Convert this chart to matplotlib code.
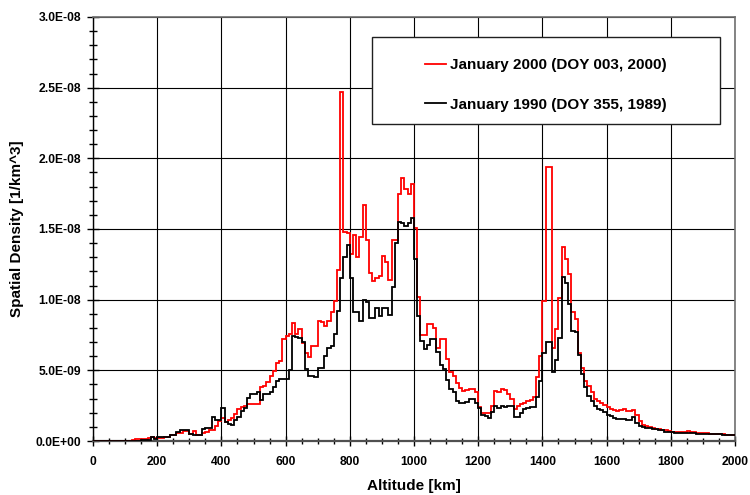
import numpy as np
import matplotlib
matplotlib.use("Agg")
import matplotlib.pyplot as plt
from matplotlib.patches import Rectangle
from matplotlib.ticker import MultipleLocator, FuncFormatter

plt.rcParams['font.family'] = ['Liberation Sans', 'DejaVu Sans']
plt.rcParams['font.weight'] = 'bold'

# Altitude bin edges [km] (10 km bins, 0..2000)
alt_edges = np.arange(0, 2001, 10)

# Spatial density, units of 1e-9 per km^3, one value per 10 km bin
jan2000 = [
    0, 0, 0, 0, 0, 0, 0, 0, 0, 0,
    0, 0, 0.05, 0.12, 0.12, 0.15, 0.15, 0.2, 0.25, 0.24,
    0.18, 0.2, 0.3, 0.3, 0.4, 0.4, 0.6, 0.6, 0.7, 0.7,
    0.5, 0.7, 0.4, 0.4, 0.6, 0.65, 0.8, 0.8, 1.06, 1.4,
    1.6, 1.35, 1.5, 1.65, 1.9, 2.24, 2.4, 2.5, 2.6, 2.65,
    2.65, 2.65, 3.8, 3.9, 4.2, 4.6, 4.95, 5.5, 5.65, 7.2,
    7.4, 7.6, 8.35, 7.6, 7.95, 6.9, 6.25, 5.97, 6.7, 6.7,
    8.5, 8.4, 8.15, 8.5, 9.15, 9.9, 12.1, 24.7, 14.8, 14.7,
    13.2, 14.6, 13.0, 14.4, 16.7, 14.2, 11.9, 11.3, 11.5, 11.7,
    13.1, 12.7, 11.4, 14.2, 14.2, 17.5, 18.6, 17.8, 17.5, 18.2,
    15.1, 10.2, 7.5, 7.5, 8.3, 8.3, 8.0, 6.6, 7.2, 7.2,
    5.8, 4.9, 4.6, 4.1, 3.75, 3.57, 3.6, 3.7, 3.7, 3.5,
    2.4, 2.0, 2.0, 2.0, 2.45, 3.55, 3.45, 3.66, 3.6, 3.3,
    2.96, 2.25, 2.5, 2.6, 2.7, 2.84, 2.9, 3.1, 4.5, 6.0,
    9.9, 19.4, 19.4, 6.6, 7.9, 10.1, 13.7, 12.9, 11.8, 9.1,
    8.6, 6.2, 5.2, 4.27, 3.9, 3.45, 3.0, 2.8, 2.67, 2.55,
    2.43, 2.24, 2.2, 2.1, 2.2, 2.28, 2.1, 2.1, 2.2, 1.87,
    1.4, 1.15, 1.03, 0.97, 0.91, 0.84, 0.84, 0.78, 0.75, 0.7,
    0.67, 0.67, 0.67, 0.65, 0.65, 0.7, 0.67, 0.65, 0.6, 0.6,
    0.55, 0.55, 0.5, 0.5, 0.46, 0.46, 0.46, 0.45, 0.45, 0.45,
]

jan1990 = [
    0, 0, 0, 0, 0, 0, 0, 0, 0, 0,
    0, 0, 0, 0, 0, 0.1, 0.1, 0.1, 0.25, 0.12,
    0.25, 0.3, 0.3, 0.3, 0.4, 0.4, 0.64, 0.78, 0.78, 0.78,
    0.47, 0.4, 0.4, 0.4, 0.83, 0.9, 0.9, 1.7, 1.5, 1.5,
    2.3, 1.35, 1.2, 1.1, 1.5, 1.7, 2.1, 2.35, 3.07, 3.3,
    3.3, 3.5, 2.9, 3.3, 3.3, 3.5, 3.85, 4.25, 4.4, 4.4,
    4.4, 5.0, 7.45, 7.35, 7.3, 6.97, 5.1, 4.6, 4.6, 4.55,
    5.2, 5.2, 6.0, 6.6, 6.7, 7.6, 9.2, 11.5, 13.0, 13.85,
    11.5, 9.1, 9.1, 8.5, 10.0, 9.8, 8.7, 8.7, 9.4, 8.85,
    9.4, 9.4, 8.9, 10.9, 14.0, 15.5, 15.4, 15.2, 15.4, 15.8,
    12.9, 8.85, 7.1, 6.5, 6.8, 7.2, 7.2, 6.27, 5.4, 5.1,
    4.3, 3.7, 3.45, 2.8, 2.7, 2.7, 2.75, 3.0, 3.0, 2.7,
    2.3, 1.85, 1.75, 1.65, 2.07, 2.5, 2.37, 2.5, 2.4, 2.5,
    2.45, 1.67, 1.67, 1.97, 2.25, 2.37, 2.4, 2.4, 3.1, 4.27,
    6.2, 7.0, 7.0, 4.9, 5.7, 7.3, 11.6, 11.15, 9.7, 7.8,
    7.7, 6.1, 4.74, 3.8, 3.2, 2.86, 2.45, 2.28, 2.2, 2.04,
    1.87, 1.75, 1.63, 1.56, 1.56, 1.56, 1.5, 1.5, 1.7, 1.27,
    1.08, 0.99, 0.91, 0.91, 0.84, 0.84, 0.75, 0.75, 0.67, 0.67,
    0.67, 0.6, 0.6, 0.6, 0.6, 0.55, 0.55, 0.55, 0.5, 0.5,
    0.5, 0.5, 0.46, 0.46, 0.46, 0.46, 0.41, 0.41, 0.41, 0.41,
]

labels = ["January 2000 (DOY 003, 2000)", "January 1990 (DOY 355, 1989)"]
x_ticks = [0, 200, 400, 600, 800, 1000, 1200, 1400, 1600, 1800, 2000]

UNIT = 1e-9
red_vals = np.array(jan2000) * UNIT
blk_vals = np.array(jan1990) * UNIT

fig = plt.figure(figsize=(7.5, 4.95), dpi=100)
ax = fig.add_axes([93/750, 1-441/495, 642/750, 424/495])

ax.stairs(red_vals, alt_edges, baseline=None, color='#ff0000', lw=1.3, zorder=3, label=labels[0])
ax.stairs(blk_vals, alt_edges, baseline=None, color='#000000', lw=1.3, zorder=3.1, label=labels[1])

ax.set_xlim(0, 2000)
ax.set_ylim(0, 3.0e-8)
ax.set_xticks(x_ticks)
ax.xaxis.set_minor_locator(MultipleLocator(50))
ax.yaxis.set_major_locator(MultipleLocator(5e-9))
ax.yaxis.set_minor_locator(MultipleLocator(1e-9))
ax.yaxis.set_major_formatter(FuncFormatter(lambda v, p: f"{v:.1E}"))

ax.grid(True, which='major', color='#000000', lw=0.8, zorder=1)
ax.set_axisbelow(True)

ax.tick_params(axis='x', which='major', direction='inout', length=7, width=1,
               labelsize=8.7, pad=7)
ax.tick_params(axis='x', which='minor', direction='inout', length=5, width=1)
ax.tick_params(axis='y', which='major', direction='inout', length=9, width=1,
               labelsize=8.7, pad=4)
ax.tick_params(axis='y', which='minor', direction='inout', length=6, width=1)
for lab in ax.get_xticklabels() + ax.get_yticklabels():
    lab.set_fontweight('bold')

for side in ['top', 'right']:
    ax.spines[side].set_color('#707070')
    ax.spines[side].set_linewidth(1.2)
ax.spines['bottom'].set_color('#505050')
ax.spines['bottom'].set_linewidth(1.6)
ax.spines['left'].set_color('#000000')
ax.spines['left'].set_linewidth(1.0)

ax.set_xlabel("Altitude [km]", fontsize=11, fontweight='bold', labelpad=8)
ax.set_ylabel("Spatial Density [1/km^3]", fontsize=11, fontweight='bold', labelpad=8)

# legend box
box = Rectangle(((372-93)/642, (441-124)/424), (720-372)/642, 87/424,
                transform=ax.transAxes, facecolor='white', edgecolor='#202020',
                lw=1.0, zorder=4.5)
ax.add_patch(box)
leg = ax.legend(loc='upper left', bbox_to_anchor=((425-93)/642, (441-58)/424),
                frameon=False, handlelength=1.37, handletextpad=0.26,
                labelspacing=1.67, borderpad=0, borderaxespad=0,
                prop={'weight': 'bold', 'size': 11})
leg.set_zorder(5)

fig.savefig("out.png", dpi=100)
